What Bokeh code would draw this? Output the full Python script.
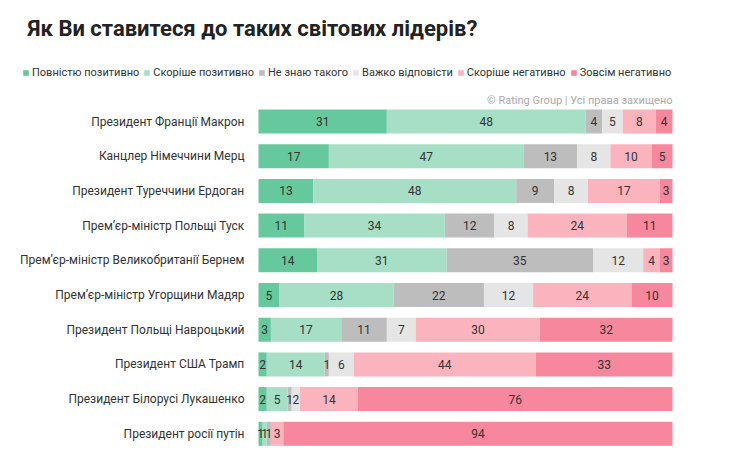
from bokeh.plotting import figure
from bokeh.models import Range1d, ColumnDataSource, Legend, LegendItem
from bokeh.core.properties import value
from bokeh.embed import file_html
from bokeh.resources import INLINE

title_text = "Як Ви ставитеся до таких світових лідерів?"
copyright_text = "© Rating Group | Усі права захищено"

leaders = [
    "Президент Франції Макрон",
    "Канцлер Німеччини Мерц",
    "Президент Туреччини Ердоган",
    "Прем’єр-міністр Польщі Туск",
    "Прем’єр-міністр Великобританії Бернем",
    "Прем’єр-міністр Угорщини Мадяр",
    "Президент Польщі Навроцький",
    "Президент США Трамп",
    "Президент Білорусі Лукашенко",
    "Президент росії путін",
]

series_names = [
    "Повністю позитивно",
    "Скоріше позитивно",
    "Не знаю такого",
    "Важко відповісти",
    "Скоріше негативно",
    "Зовсім негативно",
]

full_pos = [31, 17, 13, 11, 14, 5, 3, 2, 2, 1]
rather_pos = [48, 47, 48, 34, 31, 28, 17, 14, 5, 1]
unknown = [4, 13, 9, 12, 35, 22, 11, 1, 1, 1]
hard = [5, 8, 8, 8, 12, 12, 7, 6, 2, 0]
rather_neg = [8, 10, 17, 24, 4, 24, 30, 44, 14, 3]
full_neg = [4, 5, 3, 11, 3, 10, 32, 33, 76, 94]

series = [full_pos, rather_pos, unknown, hard, rather_neg, full_neg]
colors = ["#66c99e", "#a6dfc6", "#bdbdbd", "#e5e5e5", "#fbb4be", "#f6879c"]

# ---- layout (pixels) ----
W, H = 740, 468
BAR_L, BAR_R = 258, 672
k = (BAR_R - BAR_L) / 100.0
ROW0, ROW_STEP = 121.0, 34.7
BAR_H = 24.0 / ROW_STEP


def px_x(px):
    return (px - BAR_L) / k


def px_y(py):
    return (py - ROW0) / ROW_STEP


p = figure(
    width=W, height=H,
    x_range=Range1d(px_x(0), px_x(W)),
    y_range=Range1d(px_y(H), px_y(0)),
    output_backend="svg", toolbar_location=None,
    x_axis_location=None, y_axis_location=None,
    min_border=0, outline_line_color=None,
    background_fill_color="white", border_fill_color="white",
)
p.grid.visible = False

rows = list(range(len(leaders)))
totals = [sum(s[i] for s in series) for i in rows]

cum = [0.0] * len(rows)
items = []
for name, vals, col in zip(series_names, series, colors):
    left = list(cum)
    right = [cum[i] + vals[i] * 100.0 / totals[i] for i in rows]
    cum = right
    src = ColumnDataSource(dict(
        y=rows, left=left, right=right,
        mid=[(a + b) / 2 for a, b in zip(left, right)],
        txt=[str(v) if v > 0 else "" for v in vals],
    ))
    r = p.hbar(y="y", left="left", right="right", height=BAR_H, source=src,
               fill_color=col, line_color=None)
    p.text(x="mid", y="y", text="txt", source=src, text_align="center",
           text_baseline="middle", text_font=value("Roboto"),
           text_font_size="12px", text_color="#333333")
    items.append(LegendItem(label=name, renderers=[r]))

# row labels
lab_src = ColumnDataSource(dict(y=rows, t=leaders, x=[px_x(244)] * len(rows)))
p.text(x="x", y="y", text="t", source=lab_src, text_align="right",
       text_baseline="middle", text_font=value("Roboto"),
       text_font_size="12px", text_color="#333333")

# title
p.text(x=[px_x(27)], y=[px_y(28)], text=[title_text], text_align="left",
       text_baseline="alphabetic", text_font=value("Roboto"),
       text_font_style="bold", text_font_size="22px", text_color="#222222")

# copyright
p.text(x=[px_x(672)], y=[px_y(100)], text=[copyright_text], text_align="right",
       text_baseline="middle", text_font=value("Roboto"),
       text_font_size="11px", text_color="#aaaaaa")

legend = Legend(items=items, orientation="horizontal", location=(22, H - 72 - 7),
                padding=0, margin=0, spacing=4, glyph_width=7, glyph_height=7,
                label_standoff=3, label_height=14,
                label_text_font="Roboto", label_text_font_size="11px",
                label_text_color="#333333",
                border_line_alpha=0, background_fill_alpha=0)
p.add_layout(legend)

open("out.html", "w").write(file_html(p, INLINE))
